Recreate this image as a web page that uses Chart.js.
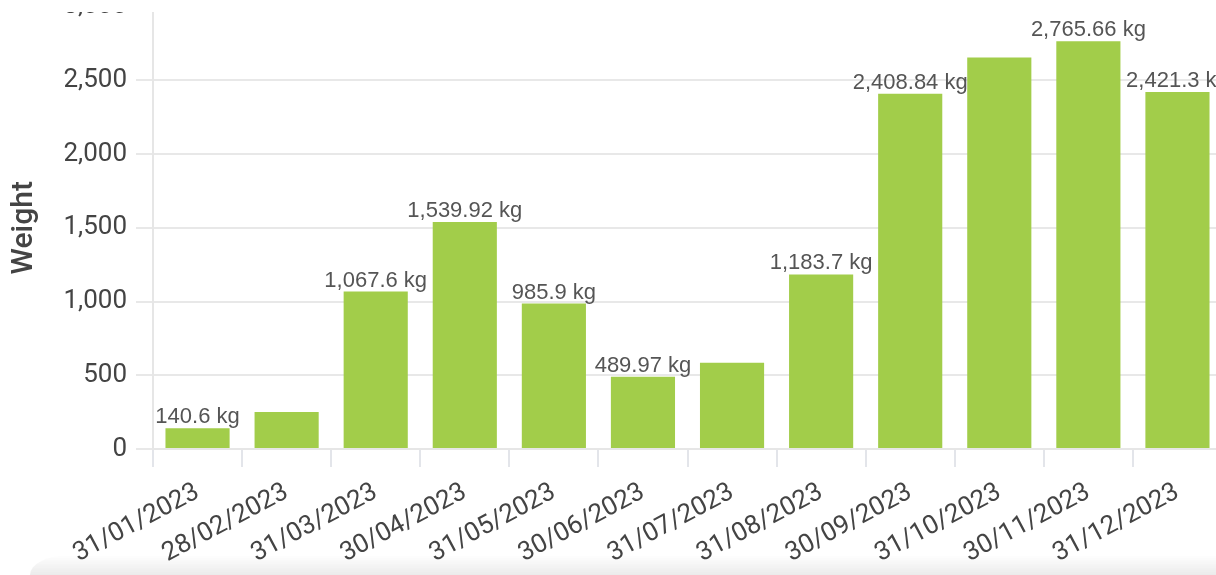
<!DOCTYPE html>
<html>
<head>
<meta charset="utf-8">
<script src="https://cdn.jsdelivr.net/npm/chart.js@4.4.1/dist/chart.umd.min.js"></script>
<style>
  html, body { margin: 0; padding: 0; background: #fff; overflow: hidden; }
  body { width: 1216px; height: 575px; position: relative; }
  #wrap { position: absolute; left: 0; top: -18px; width: 1222px; height: 599px; }
  #topcover { position: absolute; left: 0; top: 0; width: 100%; height: 12px; background: #fff; }
  #shade { position: absolute; left: 30px; right: 0; bottom: 0; height: 20px;
           background: linear-gradient(rgba(0,0,0,0), rgba(0,0,0,0.08));
           border-top-left-radius: 40px 20px; }
</style>
</head>
<body>
<div id="wrap"><canvas id="chart" width="1222" height="599"></canvas></div>
<div id="topcover"></div>
<div id="shade"></div>
<script>
// monthly totals
const months = ['31/01/2023', '28/02/2023', '31/03/2023', '30/04/2023', '31/05/2023', '30/06/2023',
                '31/07/2023', '31/08/2023', '30/09/2023', '31/10/2023', '30/11/2023', '31/12/2023'];
const weights = [140.6, 251.5, 1067.6, 1539.92, 985.9, 489.97, 584.5, 1183.7, 2408.84, 2654.2, 2765.66, 2421.3];
const unit = ' kg';

// labels above the bars; a label that overlaps an earlier one is skipped
const valueLabels = {
    id: 'valueLabels',
    afterDatasetsDraw(chart) {
        const ctx = chart.ctx;
        const meta = chart.getDatasetMeta(0);
        const size = 22, pad = 6;
        ctx.save();
        ctx.font = size + 'px "Liberation Sans", Arial, sans-serif';
        const shown = [];
        meta.data.forEach(function(bar, i) {
            const text = weights[i].toLocaleString('en-US', {maximumFractionDigits: 2}) + unit;
            const w = ctx.measureText(text).width;
            const base = bar.y - 5;
            const box = {l: bar.x - w / 2 - pad, r: bar.x + w / 2 + pad, t: base - size - pad, b: base + size * 0.3 + pad};
            const hit = shown.some(s => s.box.l < box.r && box.l < s.box.r && s.box.t < box.b && box.t < s.box.b);
            if (!hit) shown.push({text: text, x: bar.x, y: base, box: box});
        });
        ctx.fillStyle = '#555';
        ctx.textAlign = 'center';
        ctx.textBaseline = 'alphabetic';
        shown.forEach(s => ctx.fillText(s.text, s.x, s.y));
        ctx.restore();
    }
};

const ctx = document.getElementById('chart').getContext('2d');
const myChart = new Chart(ctx, {
    type: 'bar',
    data: {
        labels: months,
        datasets: [{
            label: 'Weight',
            data: weights,
            backgroundColor: '#a2cd4a',
            borderWidth: 0
        }]
    },
    options: {
        responsive: false,
        animation: false,
        layout: { padding: 0 },
        scales: {
            x: {
                grid: { drawOnChartArea: false, drawTicks: true, tickLength: 18, color: '#e3e5ea', lineWidth: 2 },
                border: { color: '#e6e6e6', width: 2 },
                ticks: {
                    autoSkip: false,
                    minRotation: 28,
                    maxRotation: 28,
                    padding: 10,
                    color: '#444',
                    font: { family: 'Roboto', size: 26 }
                },
                afterFit: function(scale) { scale.height = 132; }
            },
            y: {
                min: 0,
                max: 3000,
                grid: { color: '#e8e8e8', lineWidth: 2, tickLength: 17 },
                border: { color: '#e6e6e6', width: 2 },
                ticks: {
                    stepSize: 500,
                    padding: 9,
                    color: '#444',
                    font: { family: 'Roboto', size: 26 }
                },
                title: {
                    display: true,
                    text: 'Weight',
                    color: '#444',
                    padding: { top: 6, bottom: 4 },
                    font: { family: 'Roboto', size: 30, weight: '500' }
                },
                afterFit: function(scale) { scale.width = 153; }
            }
        },
        plugins: {
            legend: { display: false },
            tooltip: { enabled: false }
        }
    },
    plugins: [valueLabels]
});
</script>
</body>
</html>
